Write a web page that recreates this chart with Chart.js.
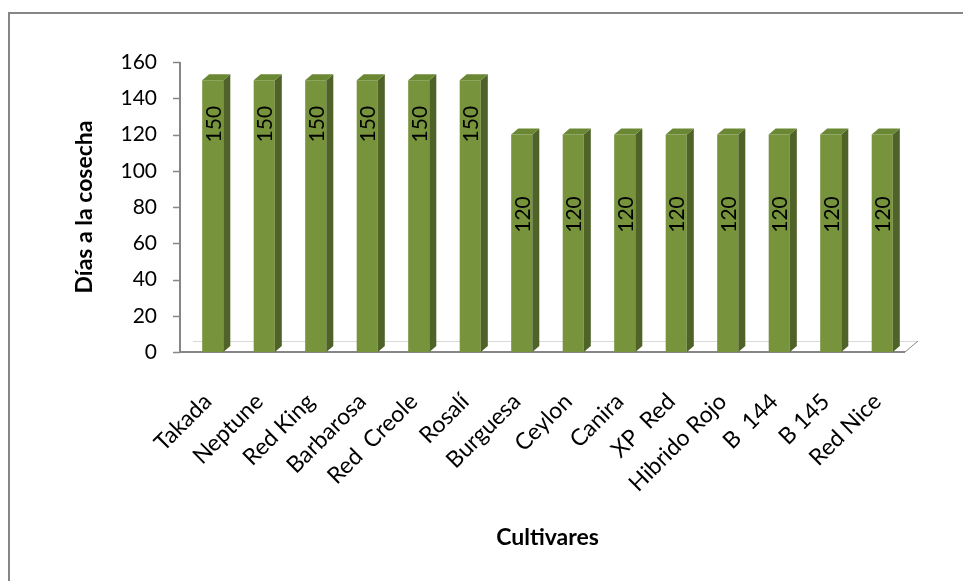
<!DOCTYPE html>
<html lang="es">
<head>
    <meta charset="UTF-8">
    <title>Días a la cosecha por cultivar</title>
    <script src="https://cdn.jsdelivr.net/npm/chart.js"></script>
    <style>
        html, body { margin: 0; padding: 0; background: #fff; }
        #wrap { width: 963px; height: 581px; }
    </style>
</head>
<body>
<div id="wrap"><canvas id="chart" width="963" height="581"></canvas></div>

<script>
// data
const cultivares = ['Takada', 'Neptune', 'Red King', 'Barbarosa', 'Red  Creole', 'Rosalí',
    'Burguesa', 'Ceylon', 'Canira', 'XP  Red', 'Hibrido Rojo', 'B  144', 'B 145', 'Red Nice'];
const dias = [150, 150, 150, 150, 150, 150, 120, 120, 120, 120, 120, 120, 120, 120];
const yTicks = [0, 20, 40, 60, 80, 100, 120, 140, 160];

const FONT = 'Lato, "Open Sans", sans-serif';
const GREEN = '#77933C';
const GREEN_SIDE = '#4F6228';
const GREEN_TOP = '#6A8734';
const AXIS = '#868686';

// outer frame, floor and axis lines (the 3d look of the original)
const framePlugin = {
    id: 'frame',
    beforeDraw(chart) {
        const ctx = chart.ctx;
        ctx.save();
        ctx.strokeStyle = AXIS;
        ctx.lineWidth = 2;
        ctx.beginPath();
        ctx.moveTo(9, 581);
        ctx.lineTo(9, 13);
        ctx.lineTo(963, 13);
        ctx.stroke();
        ctx.restore();
    },
    beforeDatasetsDraw(chart) {
        const ctx = chart.ctx;
        const a = chart.chartArea;
        const y = chart.scales.y;
        const x0 = a.left - 7, x1 = a.right - 3;
        const yb = y.getPixelForValue(0);
        ctx.save();
        // back edge of the floor
        ctx.strokeStyle = '#d9d9d9';
        ctx.lineWidth = 1;
        ctx.beginPath();
        ctx.moveTo(x0 + 13, yb - 10.5);
        ctx.lineTo(x1 + 13, yb - 10.5);
        ctx.stroke();
        // right side of the floor
        ctx.strokeStyle = AXIS;
        ctx.beginPath();
        ctx.moveTo(x1, yb);
        ctx.lineTo(x1 + 13, yb - 11);
        ctx.stroke();
        // front edge / x axis
        ctx.lineWidth = 2;
        ctx.beginPath();
        ctx.moveTo(x0, yb);
        ctx.lineTo(x1, yb);
        ctx.stroke();
        // y axis with outward tick marks
        ctx.beginPath();
        ctx.moveTo(x0, y.getPixelForValue(yTicks[yTicks.length - 1]));
        ctx.lineTo(x0, yb);
        ctx.stroke();
        ctx.lineWidth = 1.5;
        yTicks.forEach(t => {
            const py = Math.round(y.getPixelForValue(t)) + 0.5;
            ctx.beginPath();
            ctx.moveTo(x0 - 7, py);
            ctx.lineTo(x0, py);
            ctx.stroke();
        });
        ctx.restore();
    }
};

// side and top faces of each bar, plus the rotated value labels
const barPlugin = {
    id: 'bars3d',
    afterDatasetsDraw(chart) {
        const ctx = chart.ctx;
        const meta = chart.getDatasetMeta(0);
        const dx = 7, dy = 6;
        ctx.save();
        meta.data.forEach((bar, i) => {
            const p = bar.getProps(['x', 'y', 'width', 'base'], true);
            const l = p.x - p.width / 2, r = p.x + p.width / 2;
            ctx.fillStyle = GREEN_SIDE;
            ctx.beginPath();
            ctx.moveTo(r, p.y);
            ctx.lineTo(r + dx, p.y - dy);
            ctx.lineTo(r + dx, p.base - dy);
            ctx.lineTo(r, p.base);
            ctx.closePath();
            ctx.fill();
            ctx.fillStyle = GREEN_TOP;
            ctx.beginPath();
            ctx.moveTo(l, p.y);
            ctx.lineTo(l + dx, p.y - dy);
            ctx.lineTo(r + dx, p.y - dy);
            ctx.lineTo(r, p.y);
            ctx.closePath();
            ctx.fill();

            const v = dias[i];
            ctx.save();
            ctx.translate(p.x + 1, p.y + 44 + (150 - v) * 1.2);
            ctx.rotate(-Math.PI / 2);
            ctx.fillStyle = '#000';
            ctx.font = '21px ' + FONT;
            ctx.textAlign = 'center';
            ctx.textBaseline = 'middle';
            ctx.fillText(String(v), 0, 0);
            ctx.restore();
        });
        ctx.restore();
    }
};

const ctx = document.getElementById('chart').getContext('2d');
const chart = new Chart(ctx, {
    type: 'bar',
    data: {
        labels: cultivares,
        datasets: [{
            data: dias,
            backgroundColor: GREEN,
            borderWidth: 0,
            barPercentage: 0.41,
            categoryPercentage: 1
        }]
    },
    options: {
        responsive: false,
        animation: false,
        layout: { padding: { top: 62, right: 55, bottom: 0, left: 0 } },
        plugins: {
            legend: { display: false },
            tooltip: { enabled: false }
        },
        scales: {
            x: {
                grid: { display: false, drawTicks: false },
                border: { display: false },
                ticks: {
                    minRotation: 45,
                    maxRotation: 45,
                    padding: 36,
                    labelOffset: -5,
                    color: '#000',
                    font: { family: FONT, size: 23 }
                },
                title: {
                    display: true,
                    text: 'Cultivares',
                    color: '#000',
                    font: { family: FONT, size: 23, weight: 'bold' },
                    padding: { top: 0, bottom: 30 }
                },
                afterFit(scale) { scale.height = 229; }
            },
            y: {
                min: 0,
                max: 160,
                grid: { display: false, drawTicks: false },
                border: { display: false },
                afterBuildTicks(scale) { scale.ticks = yTicks.map(v => ({ value: v })); },
                ticks: {
                    padding: 30,
                    color: '#000',
                    font: { family: FONT, size: 21 }
                },
                title: {
                    display: true,
                    text: 'Días a la cosecha',
                    color: '#000',
                    font: { family: FONT, size: 23, weight: 'bold' },
                    padding: { top: 71, bottom: 0 }
                },
                afterFit(scale) { scale.width = 187; }
            }
        }
    },
    plugins: [framePlugin, barPlugin]
});
</script>
</body>
</html>
